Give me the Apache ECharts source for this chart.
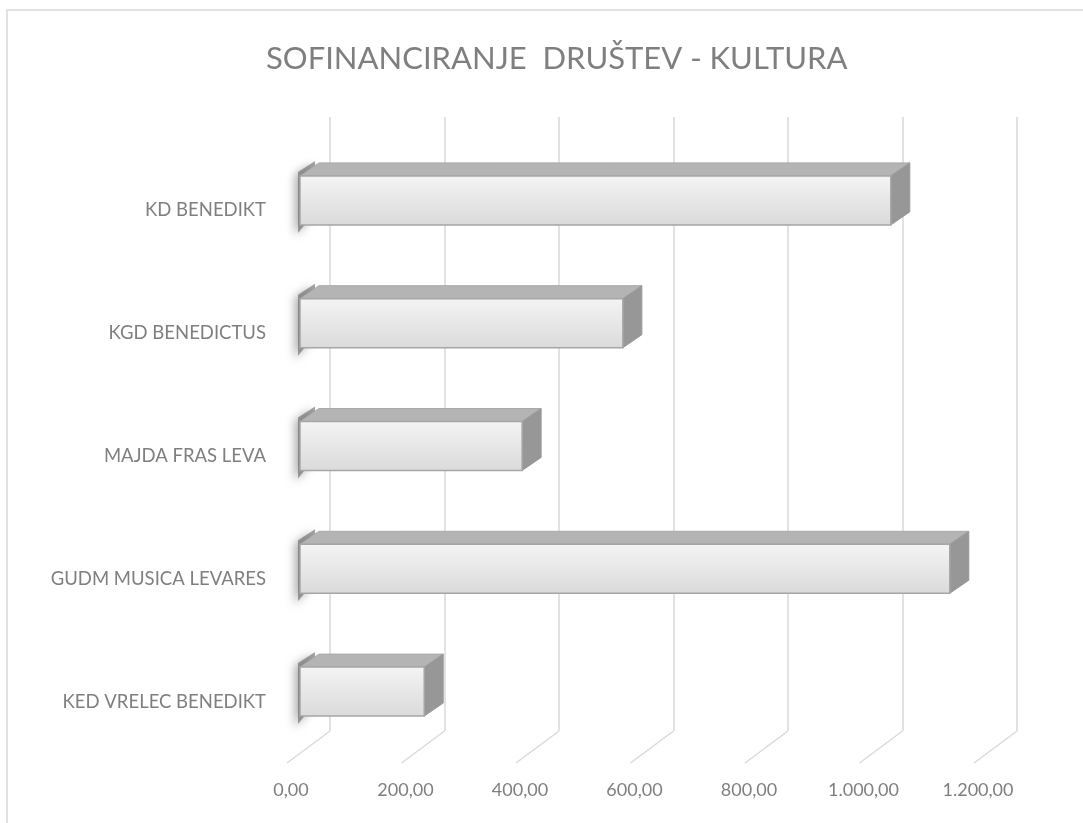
<!DOCTYPE html>
<html>
<head>
<meta charset="utf-8">
<script src="https://cdn.jsdelivr.net/npm/echarts@6/dist/echarts.min.js"></script>
<style>
  html, body { margin: 0; padding: 0; background: #fff; }
  #chart { width: 1083px; height: 823px; }
</style>
</head>
<body>
<div id="chart"></div>
<script>
// podatki
const categories = ['KD BENEDIKT', 'KGD BENEDICTUS', 'MAJDA FRAS LEVA', 'GUDM MUSICA LEVARES', 'KED VRELEC BENEDIKT']
const values = [1032, 564, 388, 1135, 217]
const ticks = [0, 200, 400, 600, 800, 1000, 1200]

const FONT = 'Lato'
const GRAY = '#7f7f7f'

// 1.000,00 format
function fmt(v) {
  const s = Math.round(v).toString().replace(/\B(?=(\d{3})+(?!\d))/g, '.')
  return s + ',00'
}

const chart = echarts.init(document.getElementById('chart'))

chart.setOption({
  animation: false,
  title: {
    text: 'SOFINANCIRANJE  DRUŠTEV - KULTURA',
    left: 261,
    top: 38,
    textStyle: { color: GRAY, fontSize: 31, fontWeight: 'normal', fontFamily: FONT }
  },
  graphic: [
    // okvir
    { type: 'rect', shape: { x: 7, y: 10, width: 1200, height: 1000 }, style: { fill: 'none', stroke: '#d9d9d9', lineWidth: 1.5 }, z: -10 }
  ],
  grid: [
    // zadnja stena
    { left: 330, top: 117, width: 687, height: 614 },
    // sprednja ravnina
    { left: 291, top: 149, width: 687, height: 614 }
  ],
  xAxis: [
    {
      type: 'value', gridIndex: 0, min: 0, max: 1200, interval: 200,
      axisLine: { show: false }, axisTick: { show: false }, axisLabel: { show: false },
      splitLine: { lineStyle: { color: '#d9d9d9', width: 1.5 } }
    },
    {
      type: 'value', gridIndex: 1, min: 0, max: 1200, interval: 200,
      axisLine: { show: false }, axisTick: { show: false }, splitLine: { show: false },
      axisLabel: { color: GRAY, fontSize: 18, fontFamily: FONT, margin: 18, formatter: fmt }
    }
  ],
  yAxis: [
    {
      type: 'category', gridIndex: 0, data: categories, inverse: true,
      axisLine: { show: false }, axisTick: { show: false }, axisLabel: { show: false }, splitLine: { show: false }
    },
    {
      type: 'category', gridIndex: 1, data: categories, inverse: true,
      axisLine: { show: false }, axisTick: { show: false }, splitLine: { show: false },
      axisLabel: { color: GRAY, fontSize: 18.5, fontFamily: FONT, margin: 25 }
    }
  ],
  series: [
    {
      // tla - poševne črte
      type: 'custom',
      xAxisIndex: 0, yAxisIndex: 0,
      data: ticks.map(t => [t, 0]),
      silent: true,
      z: 1,
      renderItem: function (params, api) {
        const p = api.coord([api.value(0), 0])
        const bottom = params.coordSys.y + params.coordSys.height
        return {
          type: 'line',
          shape: { x1: p[0], y1: bottom, x2: p[0] - 43, y2: bottom + 32 },
          style: { stroke: '#d9d9d9', lineWidth: 1.5 }
        }
      }
    },
    {
      // 3D stolpci
      type: 'custom',
      xAxisIndex: 0, yAxisIndex: 0,
      data: values.map((v, i) => [v, i]),
      encode: { x: 0, y: 1 },
      z: 5,
      renderItem: function (params, api) {
        const end = api.coord([api.value(0), api.value(1)])
        const start = api.coord([0, api.value(1)])
        const x0 = start[0] - 30
        const x1 = end[0] - 30
        const cy = start[1] + 22
        const h = 49
        const top = cy - h / 2
        const bot = cy + h / 2
        const dx = 19, dy = -13
        return {
          type: 'group',
          children: [
            {
              // senca levo
              type: 'polygon',
              shape: { points: [[x0 - 2, top - 4], [x0 + dx - 4, top + dy - 2], [x0 + dx - 4, bot + dy], [x0 - 2, bot + 8]] },
              style: { fill: 'rgba(90,90,90,0.55)', shadowBlur: 10, shadowColor: 'rgba(0,0,0,0.6)', shadowOffsetX: -3, shadowOffsetY: 3 }
            },
            {
              type: 'polygon',
              shape: { points: [[x0, top], [x0 + dx, top + dy], [x1 + dx, top + dy], [x1, top]] },
              style: { fill: '#b4b4b4', stroke: '#a9a9a9', lineWidth: 1 }
            },
            {
              type: 'polygon',
              shape: { points: [[x1, top], [x1 + dx, top + dy], [x1 + dx, bot + dy], [x1, bot]] },
              style: { fill: '#979797', stroke: '#9a9a9a', lineWidth: 1 }
            },
            {
              type: 'rect',
              shape: { x: x0, y: top, width: x1 - x0, height: h },
              style: {
                fill: new echarts.graphic.LinearGradient(0, 0, 0, 1, [
                  { offset: 0, color: '#f4f4f4' },
                  { offset: 1, color: '#dadada' }
                ]),
                stroke: '#a6a6a6',
                lineWidth: 1.5
              }
            }
          ]
        }
      }
    }
  ]
})
</script>
</body>
</html>
